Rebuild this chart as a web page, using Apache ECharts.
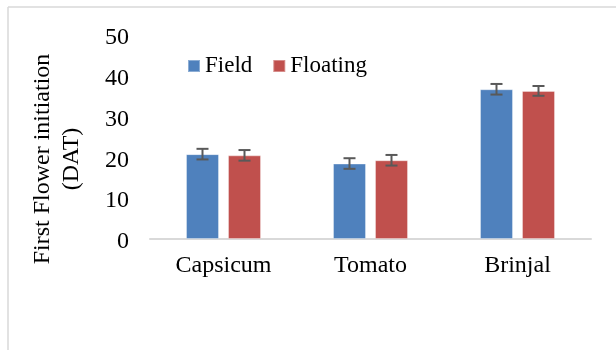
<!DOCTYPE html>
<html>
<head>
<meta charset="utf-8">
<script src="https://cdn.jsdelivr.net/npm/echarts@6/dist/echarts.min.js"></script>
<style>
html,body{margin:0;padding:0;background:#fff;}
#c{width:616px;height:350px;}
</style>
</head>
<body>
<div id="c"></div>
<script>
const categories = ['Capsicum', 'Tomato', 'Brinjal'];
const seriesNames = ['Field', 'Floating'];
const fieldValues = [20.8, 18.5, 36.7];
const floatingValues = [20.5, 19.3, 36.3];
const fieldErrors = [1.3, 1.3, 1.3];
const floatingErrors = [1.3, 1.3, 1.2];
const yTicks = [0, 10, 20, 30, 40, 50];

const FONT = "'Liberation Serif', 'Times New Roman', serif";
const BAR_W = 33;
const BAR_GAP = 9;
const colors = ['#4F81BD', '#C0504D'];

function errData(vals, errs) {
  return vals.map((v, i) => [i, v - errs[i], v + errs[i]]);
}

function errRenderer(offset) {
  return function (params, api) {
    const x = api.value(0);
    const lo = api.coord([x, api.value(1)]);
    const hi = api.coord([x, api.value(2)]);
    const cx = lo[0] + offset;
    const half = 6;
    const style = { stroke: '#595959', lineWidth: 2 };
    return {
      type: 'group',
      children: [
        { type: 'line', shape: { x1: cx, y1: hi[1], x2: cx, y2: lo[1] }, style },
        { type: 'line', shape: { x1: cx - half, y1: hi[1], x2: cx + half, y2: hi[1] }, style },
        { type: 'line', shape: { x1: cx - half, y1: lo[1], x2: cx + half, y2: lo[1] }, style }
      ]
    };
  };
}

const chart = echarts.init(document.getElementById('c'), null, { renderer: 'canvas' });
const off = (BAR_W + BAR_GAP) / 2;

chart.setOption({
  animation: false,
  backgroundColor: '#fff',
  textStyle: { fontFamily: FONT },
  grid: { left: 150, right: 25, top: 35, bottom: 111, containLabel: false },
  legend: {
    data: seriesNames,
    left: 187,
    top: 54,
    padding: 0,
    itemWidth: 12,
    itemHeight: 12,
    itemGap: 20,
    icon: 'rect',
    textStyle: { fontFamily: FONT, fontSize: 23, color: '#000', lineHeight: 24 }
  },
  xAxis: {
    type: 'category',
    data: categories,
    axisLine: { lineStyle: { color: '#d9d9d9', width: 2 } },
    axisTick: { show: false },
    axisLabel: { fontFamily: FONT, fontSize: 24, color: '#000', margin: 15 }
  },
  yAxis: {
    type: 'value',
    min: yTicks[0],
    max: yTicks[yTicks.length - 1],
    interval: yTicks[1] - yTicks[0],
    axisLine: { show: false },
    axisTick: { show: false },
    splitLine: { show: false },
    axisLabel: {
      fontFamily: FONT, fontSize: 24, color: '#000', margin: 21,
      formatter: function (v) { return '{a|' + v + '}'; },
      rich: { a: { fontFamily: FONT, fontSize: 24, color: '#000', padding: [6, 0, 0, 0] } }
    }
  },
  graphic: [
    { type: 'line', shape: { x1: 8, y1: 7, x2: 616, y2: 7 }, style: { stroke: '#d9d9d9', lineWidth: 1.5 } },
    { type: 'line', shape: { x1: 8, y1: 7, x2: 8, y2: 350 }, style: { stroke: '#d9d9d9', lineWidth: 1.5 } },
    {
      type: 'text',
      x: 57.5,
      y: 159,
      rotation: Math.PI / 2,
      style: {
        text: 'First Flower initiation\n(DAT)',
        font: "24px 'Liberation Serif', 'Times New Roman', serif",
        fill: '#000',
        align: 'center',
        verticalAlign: 'middle',
        lineHeight: 29
      }
    }
  ],
  series: [
    {
      name: seriesNames[0],
      type: 'bar',
      data: fieldValues,
      barWidth: BAR_W,
      barGap: (BAR_GAP / BAR_W * 100) + '%',
      itemStyle: { color: colors[0], borderColor: 'rgba(255,255,255,0.35)', borderWidth: 1 }
    },
    {
      name: seriesNames[1],
      type: 'bar',
      data: floatingValues,
      barWidth: BAR_W,
      itemStyle: { color: colors[1], borderColor: 'rgba(255,255,255,0.35)', borderWidth: 1 }
    },
    {
      type: 'custom',
      renderItem: errRenderer(-off),
      data: errData(fieldValues, fieldErrors),
      encode: { x: 0, y: [1, 2] },
      z: 5,
      silent: true
    },
    {
      type: 'custom',
      renderItem: errRenderer(off),
      data: errData(floatingValues, floatingErrors),
      encode: { x: 0, y: [1, 2] },
      z: 5,
      silent: true
    }
  ]
});
</script>
</body>
</html>
